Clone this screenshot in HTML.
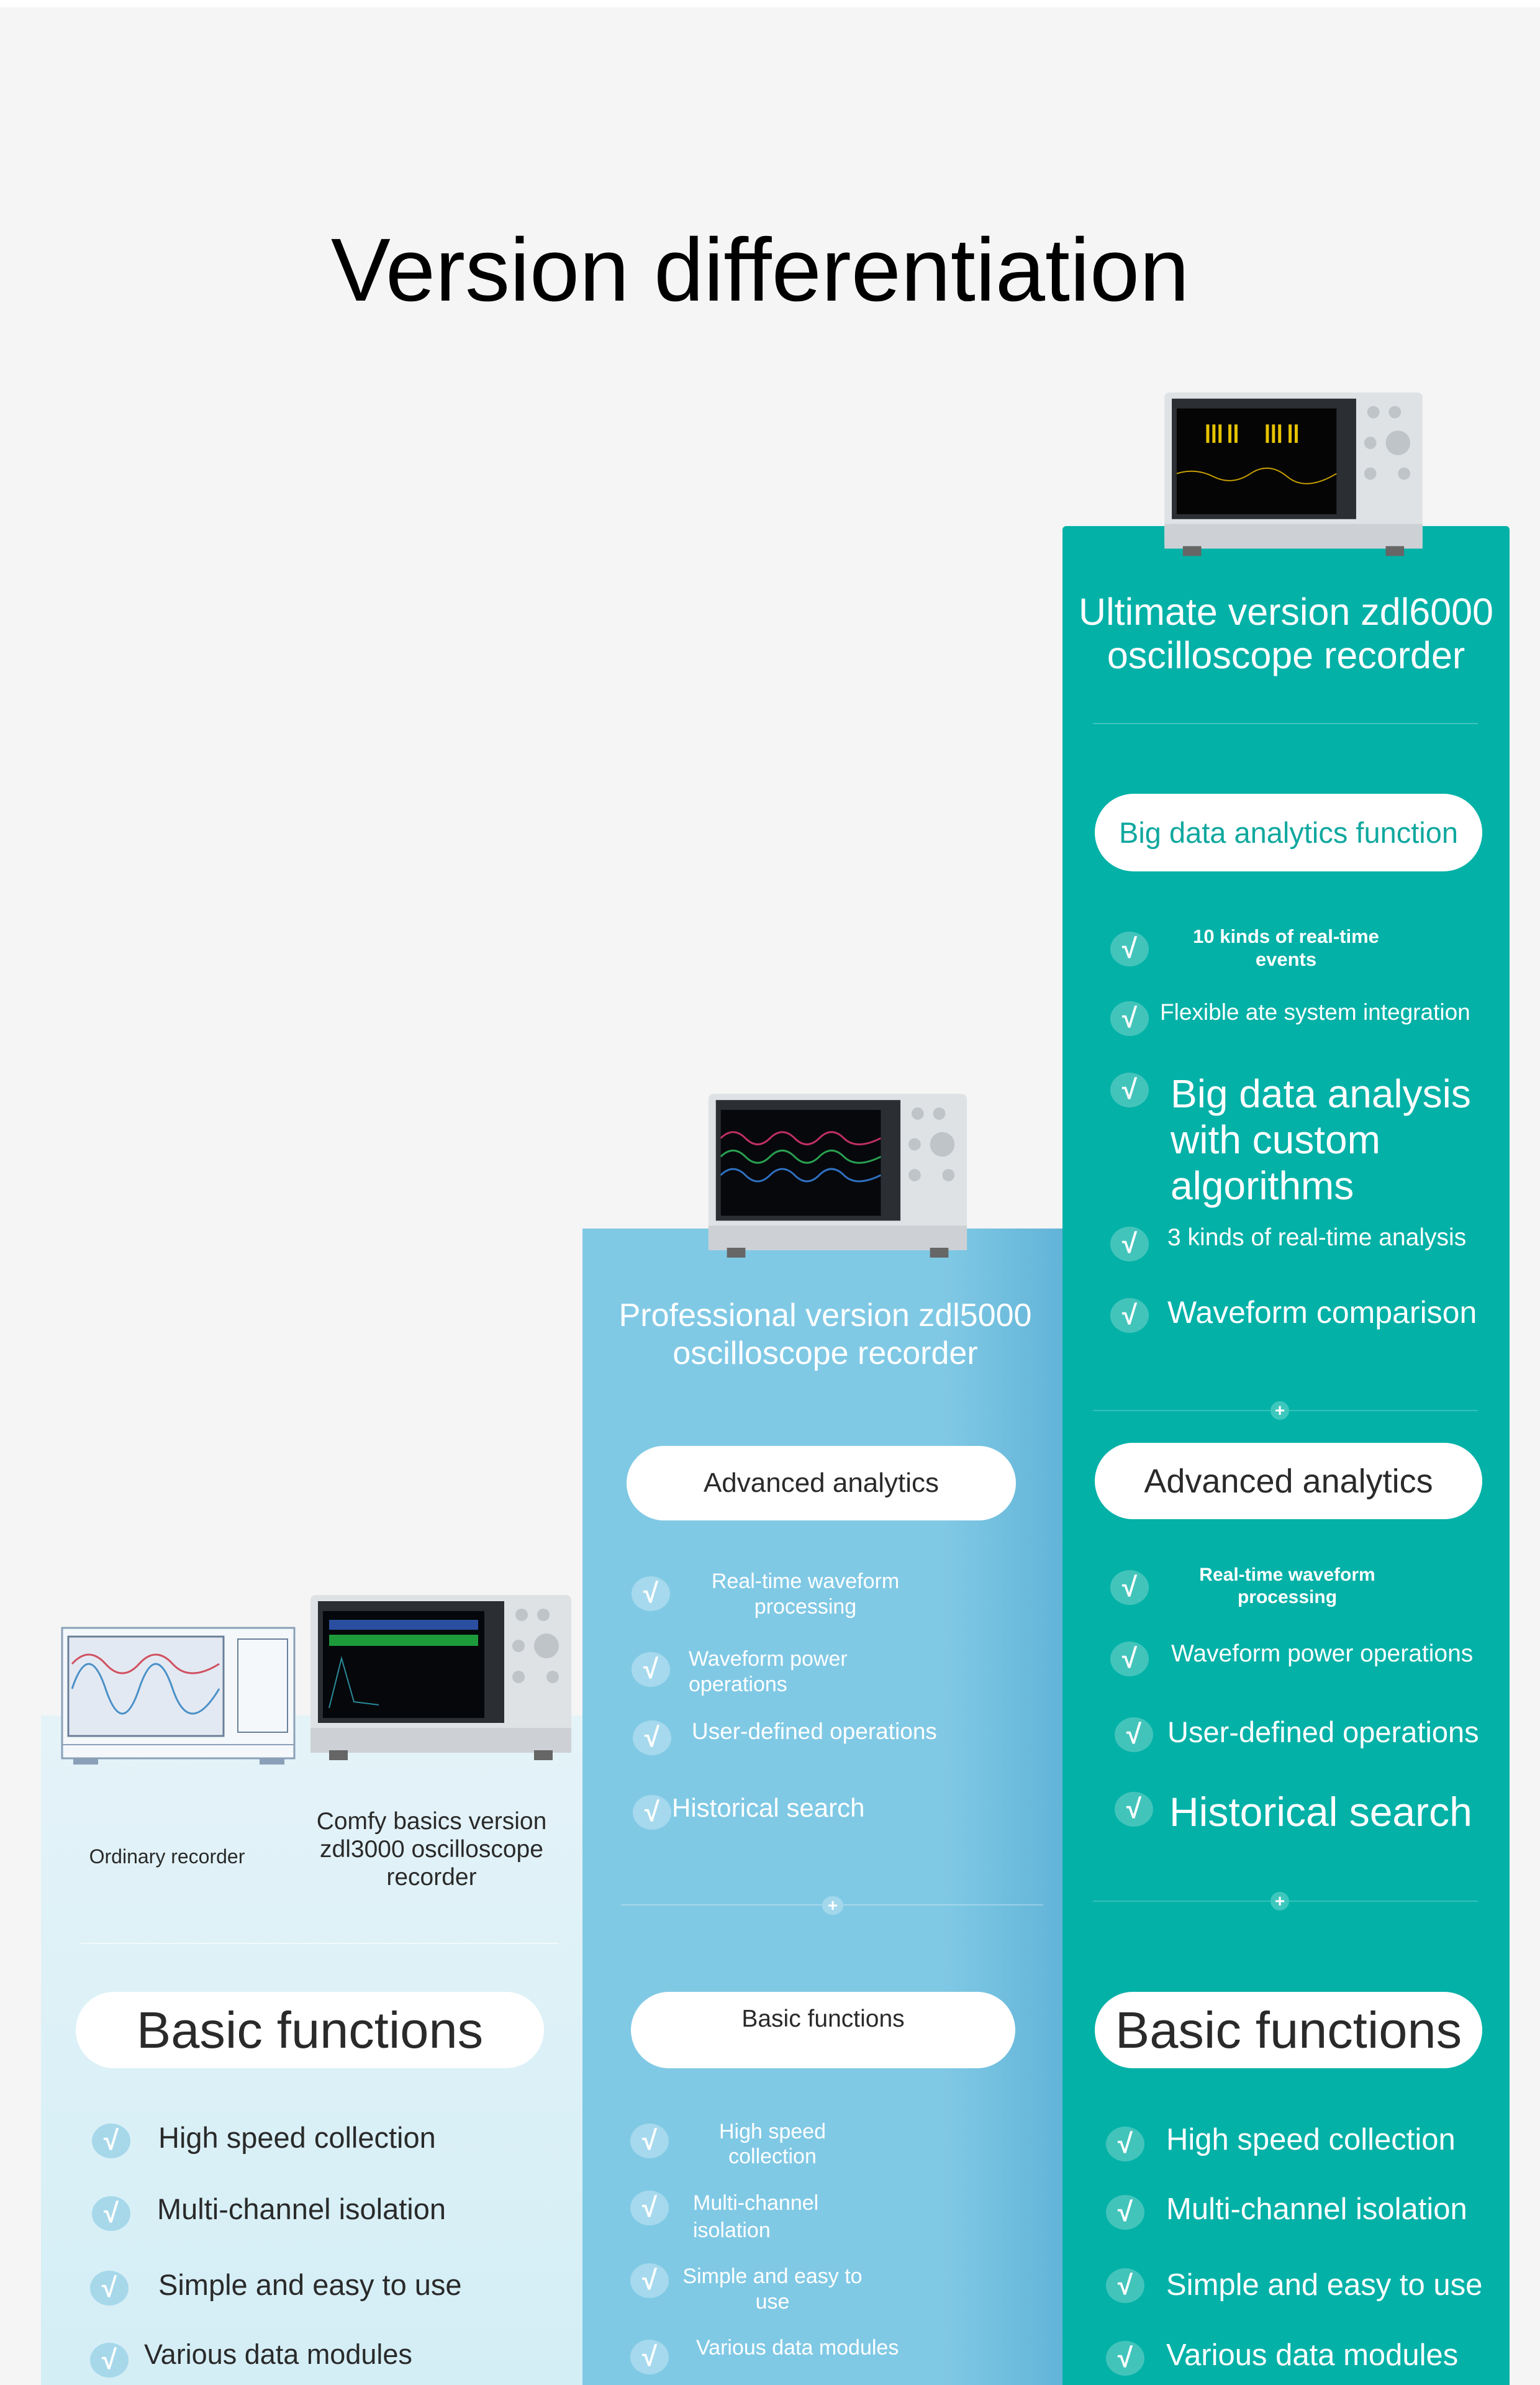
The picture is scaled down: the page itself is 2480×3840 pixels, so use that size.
<!DOCTYPE html>
<html><head><meta charset="utf-8">
<style>
*{margin:0;padding:0;box-sizing:border-box}
body{width:2480px;height:3840px;background:#f5f5f5;position:relative;overflow:hidden;font-family:"Liberation Sans","DejaVu Sans",sans-serif}
.a{position:absolute;white-space:nowrap}
.c{transform:translateX(-50%);text-align:center}
.pill{position:absolute;background:#fff;border-radius:70px;display:flex;align-items:center;justify-content:center;white-space:nowrap}
.ck{position:absolute;width:62px;height:56px;border-radius:50%;transform:translate(-50%,-50%);color:#fff;font-weight:bold;font-size:44px;line-height:56px;text-align:center}
.w{color:#fff}
.dk{color:#2a2a2a}
</style></head><body>
<div class="a" style="left:0;top:0;width:2480px;height:12px;background:#fff"></div>
<div class="a c" style="left:1224px;top:350px;font-size:144px;line-height:170px;color:#000">Version differentiation</div>

<div class="a" style="left:66px;top:2762px;width:872px;height:1078px;background:linear-gradient(#e4f3f8,#d4eef6)"></div>
<div class="a" style="left:938px;top:1978px;width:773px;height:1862px;background:linear-gradient(90deg,#80c9e5 0%,#80c9e5 75%,#62b4d8 100%)"></div>
<div class="a" style="left:1711px;top:847px;width:720px;height:2993px;background:#03b1a7;border-radius:6px 6px 0 0"></div>

<svg class="a" style="left:1865px;top:624px" width="436" height="287" viewBox="0 0 440 290">
<rect x="10" y="8" width="420" height="250" rx="8" fill="#dfe2e5"/><rect x="22" y="18" width="300" height="196" fill="#2b2e33"/><rect x="30" y="34" width="260" height="172" fill="#050505"/>
<g fill="#e6c300"><rect x="78" y="60" width="5" height="30"/><rect x="88" y="60" width="5" height="30"/><rect x="98" y="60" width="5" height="30"/><rect x="114" y="60" width="5" height="30"/><rect x="124" y="60" width="5" height="30"/><rect x="175" y="60" width="5" height="30"/><rect x="185" y="60" width="5" height="30"/><rect x="195" y="60" width="5" height="30"/><rect x="212" y="60" width="5" height="30"/><rect x="222" y="60" width="5" height="30"/></g>
<path d="M30 140 Q60 130 90 145 T150 140 T210 145 T290 140" stroke="#c8a000" fill="none" stroke-width="2"/>
<g fill="#bfc4c9"><circle cx="350" cy="40" r="10"/><circle cx="385" cy="40" r="10"/><circle cx="390" cy="90" r="20"/><circle cx="345" cy="90" r="10"/><circle cx="345" cy="140" r="10"/><circle cx="400" cy="140" r="10"/></g>
<rect x="10" y="222" width="420" height="40" fill="#cdd1d5"/><rect x="40" y="258" width="30" height="16" fill="#666"/><rect x="370" y="258" width="30" height="16" fill="#666"/></svg>

<svg class="a" style="left:1131px;top:1750px" width="436" height="294" viewBox="0 0 440 290">
<rect x="10" y="8" width="420" height="250" rx="8" fill="#dfe2e5"/><rect x="22" y="18" width="300" height="196" fill="#2b2e33"/><rect x="30" y="34" width="260" height="172" fill="#06080c"/>
<path d="M30 80 Q50 60 70 80 T110 80 T150 80 T190 80 T230 80 T290 80" stroke="#c03060" fill="none" stroke-width="3"/>
<path d="M30 110 Q50 90 70 110 T110 110 T150 110 T190 110 T230 110 T290 110" stroke="#2aa050" fill="none" stroke-width="3"/>
<path d="M30 140 Q50 120 70 140 T110 140 T150 140 T190 140 T230 140 T290 140" stroke="#3070c0" fill="none" stroke-width="3"/>
<g fill="#bfc4c9"><circle cx="350" cy="40" r="10"/><circle cx="385" cy="40" r="10"/><circle cx="390" cy="90" r="20"/><circle cx="345" cy="90" r="10"/><circle cx="345" cy="140" r="10"/><circle cx="400" cy="140" r="10"/></g>
<rect x="10" y="222" width="420" height="40" fill="#cdd1d5"/><rect x="40" y="258" width="30" height="16" fill="#666"/><rect x="370" y="258" width="30" height="16" fill="#666"/></svg>

<svg class="a" style="left:490px;top:2558px" width="440" height="294" viewBox="0 0 440 290">
<rect x="10" y="8" width="420" height="250" rx="8" fill="#dfe2e5"/><rect x="22" y="18" width="300" height="196" fill="#2b2e33"/><rect x="30" y="34" width="260" height="172" fill="#05070a"/>
<g fill="#2a4fa0"><rect x="40" y="48" width="240" height="16"/></g><g fill="#1d9a3a"><rect x="40" y="72" width="240" height="18"/></g>
<path d="M40 190 L60 110 L80 180 L120 185" stroke="#2a8a9a" fill="none" stroke-width="2"/>
<g fill="#bfc4c9"><circle cx="350" cy="40" r="10"/><circle cx="385" cy="40" r="10"/><circle cx="390" cy="90" r="20"/><circle cx="345" cy="90" r="10"/><circle cx="345" cy="140" r="10"/><circle cx="400" cy="140" r="10"/></g>
<rect x="10" y="222" width="420" height="40" fill="#cdd1d5"/><rect x="40" y="258" width="30" height="16" fill="#666"/><rect x="370" y="258" width="30" height="16" fill="#666"/></svg>

<svg class="a" style="left:98px;top:2619px" width="380" height="233" viewBox="0 0 380 233">
<rect x="2" y="2" width="374" height="210" fill="#f4f8fb" stroke="#8aa0b8" stroke-width="3"/><rect x="12" y="16" width="250" height="160" fill="#e3e9f2" stroke="#6a7f98" stroke-width="3"/>
<path d="M18 60 Q45 30 72 60 T126 60 T180 60 T255 60" stroke="#d05060" fill="none" stroke-width="3"/>
<path d="M18 100 Q45 20 72 100 T126 100 T180 100 T255 100" stroke="#4a90c8" fill="none" stroke-width="3"/>
<rect x="285" y="20" width="80" height="150" fill="none" stroke="#6a7f98" stroke-width="2"/>
<line x1="2" y1="190" x2="376" y2="190" stroke="#8aa0b8" stroke-width="2"/><rect x="20" y="212" width="40" height="10" fill="#8aa0b8"/><rect x="320" y="212" width="40" height="10" fill="#8aa0b8"/></svg>

<div class="a c w" style="left:2071px;top:950px;font-size:61px;line-height:70px">Ultimate version zdl6000<br>oscilloscope recorder</div>
<div class="a" style="left:1760px;top:1164px;width:620px;height:2px;background:rgba(255,255,255,.25)"></div>
<div class="pill" style="left:1763px;top:1278px;width:624px;height:125px;color:#10a89f;font-size:47px">Big data analytics function</div>
<div class="ck" style="left:1819px;top:1528px;background:#43c4bb">√</div>
<div class="ck" style="left:1819px;top:1640px;background:#43c4bb">√</div>
<div class="ck" style="left:1819px;top:1755px;background:#43c4bb">√</div>
<div class="ck" style="left:1819px;top:2003px;background:#43c4bb">√</div>
<div class="ck" style="left:1819px;top:2118px;background:#43c4bb">√</div>
<div class="a c w" style="left:2071px;top:1489px;font-size:31px;line-height:37px;font-weight:bold">10 kinds of real-time<br>events</div>
<div class="a w" style="left:1868px;top:1609px;font-size:37px;line-height:42px">Flexible ate system integration</div>
<div class="a w" style="left:1885px;top:1724px;font-size:64px;line-height:74px">Big data analysis<br>with custom<br>algorithms</div>
<div class="a w" style="left:1880px;top:1971px;font-size:39px;line-height:44px">3 kinds of real-time analysis</div>
<div class="a w" style="left:1880px;top:2085px;font-size:50px;line-height:56px">Waveform comparison</div>
<div class="a" style="left:1760px;top:2270px;width:620px;height:2px;background:rgba(255,255,255,.2)"></div>
<div class="ck" style="left:2061px;top:2271px;width:30px;height:30px;line-height:30px;font-size:28px;background:#3ec7bd">+</div>
<div class="pill dk" style="left:1763px;top:2323px;width:624px;height:123px;font-size:54px">Advanced analytics</div>
<div class="ck" style="left:1819px;top:2556px;background:#43c4bb">√</div>
<div class="ck" style="left:1819px;top:2671px;background:#43c4bb">√</div>
<div class="ck" style="left:1826px;top:2793px;background:#43c4bb">√</div>
<div class="ck" style="left:1826px;top:2913px;background:#43c4bb">√</div>
<div class="a c w" style="left:2073px;top:2518px;font-size:30px;line-height:36px;font-weight:bold">Real-time waveform<br>processing</div>
<div class="a w" style="left:1886px;top:2641px;font-size:39px;line-height:44px">Waveform power operations</div>
<div class="a w" style="left:1880px;top:2762px;font-size:47px;line-height:54px">User-defined operations</div>
<div class="a w" style="left:1883px;top:2880px;font-size:66px;line-height:74px">Historical search</div>
<div class="a" style="left:1760px;top:3060px;width:620px;height:2px;background:rgba(255,255,255,.2)"></div>
<div class="ck" style="left:2061px;top:3061px;width:30px;height:30px;line-height:30px;font-size:28px;background:#3ec7bd">+</div>
<div class="pill dk" style="left:1763px;top:3207px;width:624px;height:123px;font-size:83px">Basic functions</div>
<div class="ck" style="left:1812px;top:3452px;background:#43c4bb">√</div>
<div class="ck" style="left:1812px;top:3562px;background:#43c4bb">√</div>
<div class="ck" style="left:1812px;top:3680px;background:#43c4bb">√</div>
<div class="ck" style="left:1812px;top:3797px;background:#43c4bb">√</div>
<div class="a w" style="left:1878px;top:3415px;font-size:49px;line-height:60px">High speed collection</div>
<div class="a w" style="left:1878px;top:3527px;font-size:49px;line-height:60px">Multi-channel isolation</div>
<div class="a w" style="left:1878px;top:3649px;font-size:49px;line-height:60px">Simple and easy to use</div>
<div class="a w" style="left:1878px;top:3762px;font-size:49px;line-height:60px">Various data modules</div>

<div class="a c w" style="left:1329px;top:2088px;font-size:52px;line-height:61px">Professional version zdl5000<br>oscilloscope recorder</div>
<div class="pill dk" style="left:1009px;top:2328px;width:627px;height:120px;font-size:44px">Advanced analytics</div>
<div class="ck" style="left:1048px;top:2566px;background:rgba(255,255,255,.3)">√</div>
<div class="ck" style="left:1048px;top:2688px;background:rgba(255,255,255,.3)">√</div>
<div class="ck" style="left:1050px;top:2798px;background:rgba(255,255,255,.3)">√</div>
<div class="ck" style="left:1050px;top:2918px;background:rgba(255,255,255,.3)">√</div>
<div class="a c w" style="left:1297px;top:2526px;font-size:34px;line-height:41px">Real-time waveform<br>processing</div>
<div class="a w" style="left:1109px;top:2651px;font-size:34px;line-height:41px">Waveform power<br>operations</div>
<div class="a w" style="left:1114px;top:2767px;font-size:37px;line-height:42px">User-defined operations</div>
<div class="a w" style="left:1082px;top:2887px;font-size:42px;line-height:48px">Historical search</div>
<div class="a" style="left:1000px;top:3066px;width:680px;height:2px;background:rgba(255,255,255,.3)"></div>
<div class="ck" style="left:1341px;top:3068px;width:34px;height:30px;line-height:30px;font-size:28px;background:#a3d8ec">+</div>
<div class="pill dk" style="left:1016px;top:3207px;width:619px;height:123px;font-size:39px;align-items:flex-start;padding-top:22px">Basic functions</div>
<div class="ck" style="left:1046px;top:3447px;background:rgba(255,255,255,.3)">√</div>
<div class="ck" style="left:1046px;top:3555px;background:rgba(255,255,255,.3)">√</div>
<div class="ck" style="left:1046px;top:3672px;background:rgba(255,255,255,.3)">√</div>
<div class="ck" style="left:1046px;top:3795px;background:rgba(255,255,255,.3)">√</div>
<div class="a c w" style="left:1244px;top:3412px;font-size:34px;line-height:40px">High speed<br>collection</div>
<div class="a w" style="left:1116px;top:3525px;font-size:34px;line-height:44px">Multi-channel<br>isolation</div>
<div class="a c w" style="left:1244px;top:3645px;font-size:34px;line-height:41px">Simple and easy to<br>use</div>
<div class="a w" style="left:1121px;top:3760px;font-size:34px;line-height:40px">Various data modules</div>

<div class="a c dk" style="left:269px;top:2970px;font-size:32px;line-height:38px">Ordinary recorder</div>
<div class="a c dk" style="left:695px;top:2910px;font-size:39px;line-height:45px">Comfy basics version<br>zdl3000 oscilloscope<br>recorder</div>
<div class="a" style="left:130px;top:3128px;width:770px;height:2px;background:rgba(255,255,255,.6)"></div>
<div class="pill dk" style="left:122px;top:3207px;width:754px;height:123px;font-size:83px">Basic functions</div>
<div class="ck" style="left:179px;top:3447px;background:#a6d8ea">√</div>
<div class="ck" style="left:179px;top:3564px;background:#a6d8ea">√</div>
<div class="ck" style="left:176px;top:3684px;background:#a6d8ea">√</div>
<div class="ck" style="left:176px;top:3800px;background:#a6d8ea">√</div>
<div class="a dk" style="left:255px;top:3414px;font-size:47px;line-height:56px">High speed collection</div>
<div class="a dk" style="left:253px;top:3529px;font-size:47px;line-height:56px">Multi-channel isolation</div>
<div class="a dk" style="left:255px;top:3651px;font-size:47px;line-height:56px">Simple and easy to use</div>
<div class="a dk" style="left:232px;top:3764px;font-size:45px;line-height:54px">Various data modules</div>
</body></html>
